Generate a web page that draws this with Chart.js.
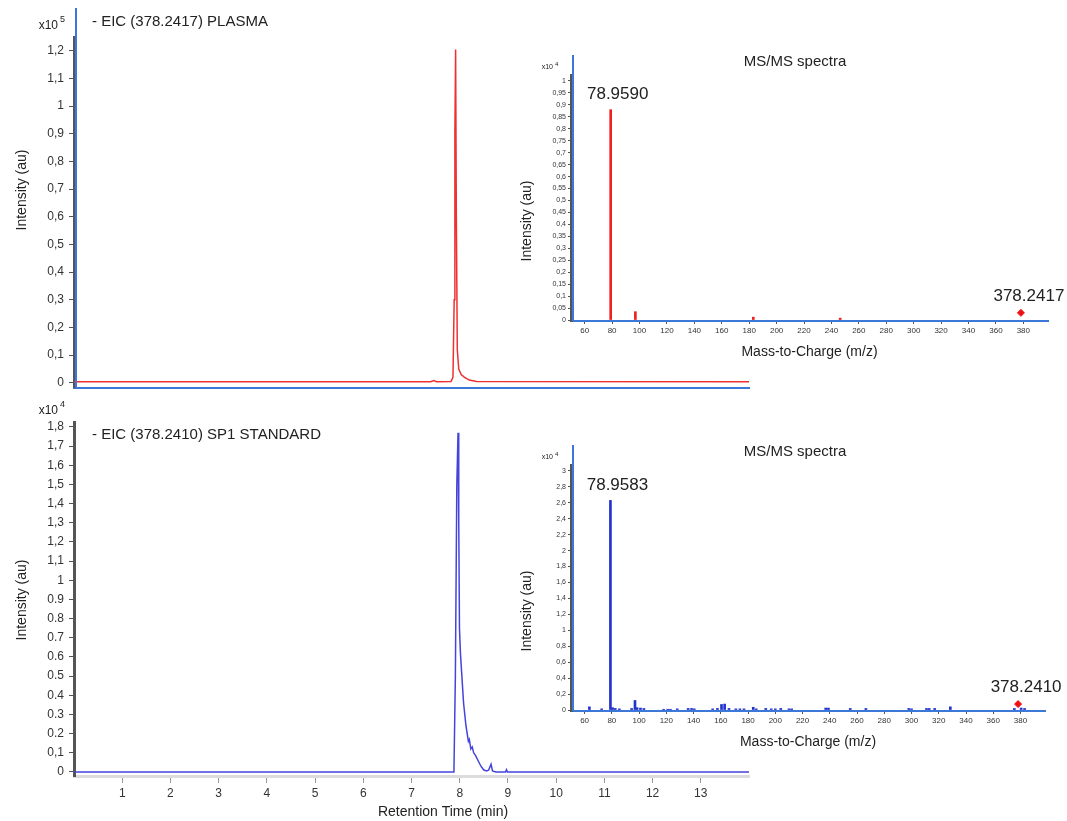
<!DOCTYPE html>
<html>
<head>
<meta charset="utf-8">
<script src="https://cdn.jsdelivr.net/npm/chart.js@4.4.0/dist/chart.umd.min.js"></script>
<style>
  body { margin: 0; background: #fff; width: 1067px; height: 821px; position: relative; overflow: hidden; }
  canvas { position: absolute; }
</style>
</head>
<body>
<canvas id="eicPlasma" width="760" height="400" style="left:0;top:0"></canvas>
<canvas id="eicStd" width="760" height="421" style="left:0;top:400px"></canvas>
<canvas id="msPlasma" width="567" height="330" style="left:500px;top:40px"></canvas>
<canvas id="msStd" width="567" height="330" style="left:500px;top:430px"></canvas>
<script>
// ---- chromatograms (x10^5 / x10^4 au vs min) ----
const plasmaTime = [0, 7.4, 7.46, 7.52, 7.82, 7.86, 7.885, 7.9, 7.915, 7.93, 7.95, 7.98, 8.03, 8.1, 8.2, 8.35, 14];
const plasmaInt  = [0.004, 0.004, 0.008, 0.004, 0.005, 0.02, 0.3, 0.9, 1.205, 0.6, 0.12, 0.05, 0.03, 0.02, 0.01, 0.005, 0.004];

const stdTime = [0, 7.88, 7.91, 7.94, 7.965, 7.98, 7.995, 8.015, 8.08, 8.13, 8.18, 8.2, 8.23, 8.26, 8.29, 8.33, 8.38, 8.44, 8.5, 8.56, 8.6, 8.65, 8.68, 8.75, 8.95, 8.97, 8.99, 14];
const stdInt  = [0, 0, 0.5, 1.5, 1.77, 1.3, 0.75, 0.62, 0.36, 0.24, 0.16, 0.17, 0.12, 0.13, 0.1, 0.085, 0.06, 0.03, 0.01, 0.005, 0.01, 0.04, 0.005, 0, 0, 0.012, 0, 0];

const timeTicks = [1, 2, 3, 4, 5, 6, 7, 8, 9, 10, 11, 12, 13];
const plasmaTicks = [0, 0.1, 0.2, 0.3, 0.4, 0.5, 0.6, 0.7, 0.8, 0.9, 1, 1.1, 1.2];
const plasmaTickLabels = ['0', '0,1', '0,2', '0,3', '0,4', '0,5', '0,6', '0,7', '0,8', '0,9', '1', '1,1', '1,2'];
const stdTicks = [0, 0.1, 0.2, 0.3, 0.4, 0.5, 0.6, 0.7, 0.8, 0.9, 1, 1.1, 1.2, 1.3, 1.4, 1.5, 1.6, 1.7, 1.8];
const stdTickLabels = ['0', '0,1', '0.2', '0.3', '0.4', '0.5', '0.6', '0.7', '0.8', '0.9', '1', '1,1', '1,2', '1,3', '1,4', '1,5', '1,6', '1,7', '1,8'];

// ---- MS/MS spectra (x10^4 au vs m/z) ----
const plasmaMz  = [78.959, 96.97, 183.0, 246.4];
const plasmaMzInt = [0.88, 0.035, 0.012, 0.008];
const stdMz = [63.5, 72.5, 78.958, 80.5, 82.5, 85.5, 94.5, 96.97, 98.5, 101, 103.5, 118, 121, 123, 128, 136, 138.5, 140.5, 154, 157.5, 160.5, 162.8, 166, 171, 174, 177, 183.8, 186, 193, 197, 200, 204, 210, 212, 237, 239, 255, 266.5, 298, 300, 311, 313, 317, 328.5, 375.5, 380.5, 383];
const stdMzInt = [0.04, 0.015, 2.63, 0.03, 0.02, 0.015, 0.02, 0.12, 0.03, 0.025, 0.02, 0.01, 0.01, 0.01, 0.015, 0.02, 0.02, 0.015, 0.015, 0.02, 0.07, 0.075, 0.02, 0.015, 0.015, 0.015, 0.035, 0.015, 0.02, 0.015, 0.015, 0.02, 0.015, 0.015, 0.025, 0.025, 0.02, 0.02, 0.02, 0.015, 0.02, 0.02, 0.02, 0.04, 0.02, 0.025, 0.02];
const precursorMz  = [378.2417, 378.2410];
const precursorInt = [0.03, 0.075];
const baseLabels = ['78.9590', '78.9583'];
const precursorLabels = ['378.2417', '378.2410'];

const mzTicks = [60, 80, 100, 120, 140, 160, 180, 200, 220, 240, 260, 280, 300, 320, 340, 360, 380];
const msTopTicks = [0, 0.05, 0.1, 0.15, 0.2, 0.25, 0.3, 0.35, 0.4, 0.45, 0.5, 0.55, 0.6, 0.65, 0.7, 0.75, 0.8, 0.85, 0.9, 0.95, 1];
const msTopTickLabels = ['0', '0,05', '0,1', '0,15', '0,2', '0,25', '0,3', '0,35', '0,4', '0,45', '0,5', '0,55', '0,6', '0,65', '0,7', '0,75', '0,8', '0,85', '0,9', '0,95', '1'];
const msStdTicks = [0, 0.2, 0.4, 0.6, 0.8, 1, 1.2, 1.4, 1.6, 1.8, 2, 2.2, 2.4, 2.6, 2.8, 3];
const msStdTickLabels = ['0', '0,2', '0,4', '0,6', '0,8', '1', '1,2', '1,4', '1,6', '1,8', '2', '2,2', '2,4', '2,6', '2,8', '3'];

const FONT = '"Liberation Sans", Arial, sans-serif';
const BLUE = '#3b78d8';
const AXIS = '#555';
Chart.defaults.font.family = FONT;
Chart.defaults.animation = false;

const pts = (xs, ys) => xs.map((x, i) => ({ x: x, y: ys[i] }));

// texts and the blue frame line
Chart.register({
  id: 'deco',
  afterDraw(chart, args, opts) {
    const ctx = chart.ctx, a = chart.chartArea;
    if (opts.frameTop !== undefined) {
      ctx.save();
      ctx.strokeStyle = BLUE; ctx.lineWidth = 2;
      ctx.beginPath();
      ctx.moveTo(a.left + 2, opts.frameTop);
      ctx.lineTo(a.left + 2, a.bottom);
      ctx.stroke();
      ctx.restore();
    }
    (opts.texts || []).forEach(t => {
      let x = t.x, y = t.y;
      if (t.mz !== undefined) {
        x = chart.scales.x.getPixelForValue(t.mz) + t.dx;
        y = chart.scales.y.getPixelForValue(t.val) + t.dy;
      }
      ctx.save();
      ctx.font = t.font + ' ' + FONT;
      ctx.fillStyle = t.color || '#222';
      ctx.textAlign = t.align || 'left';
      ctx.textBaseline = 'middle';
      ctx.translate(x, y);
      if (t.rot) ctx.rotate(t.rot);
      ctx.fillText(t.text, 0, 0);
      ctx.restore();
    });
  }
});

function yAxis(min, max, ticks, labels, width, fontSize, tickLen, pad) {
  return {
    type: 'linear', min: min, max: max,
    afterFit: s => { s.width = width; },
    afterBuildTicks: s => { s.ticks = ticks.map(v => ({ value: v })); },
    ticks: { autoSkip: false, color: '#333', font: { size: fontSize }, padding: pad,
             callback: (v, i) => labels[i] },
    grid: { drawOnChartArea: false, tickLength: tickLen, color: AXIS },
    border: { color: AXIS, width: 3 }
  };
}

// ---- EIC plasma ----
new Chart(document.getElementById('eicPlasma'), {
  type: 'line',
  data: { datasets: [{ data: pts(plasmaTime, plasmaInt), borderColor: '#ee3030', borderWidth: 1.5, pointRadius: 0, tension: 0 }] },
  options: {
    responsive: false,
    layout: { padding: { left: 0, right: 11, top: 37, bottom: 9 } },
    plugins: {
      legend: { display: false }, tooltip: { enabled: false },
      deco: { frameTop: 8, texts: [
        { text: 'x10', x: 58, y: 26, font: '12px', align: 'right' },
        { text: '5', x: 60, y: 20, font: '9px' },
        { text: '- EIC (378.2417) PLASMA', x: 92, y: 22, font: '15px' },
        { text: 'Intensity (au)', x: 22, y: 190, font: '14px', align: 'center', rot: -Math.PI / 2 }
      ] }
    },
    scales: {
      x: { type: 'linear', min: 0, max: 14,
           afterFit: s => { s.height = 0; },
           ticks: { display: false }, grid: { display: false },
           border: { color: BLUE, width: 2 } },
      y: yAxis(-0.018, 1.25, plasmaTicks, plasmaTickLabels, 74, 12, 5, 5)
    }
  }
});

// ---- EIC standard ----
new Chart(document.getElementById('eicStd'), {
  type: 'line',
  data: { datasets: [{ data: pts(stdTime, stdInt), borderColor: '#4444dd', borderWidth: 1.5, pointRadius: 0, tension: 0 }] },
  options: {
    responsive: false,
    layout: { padding: { left: 0, right: 11, top: 22, bottom: 0 } },
    plugins: {
      legend: { display: false }, tooltip: { enabled: false },
      deco: { texts: [
        { text: 'x10', x: 58, y: 11, font: '12px', align: 'right' },
        { text: '4', x: 60, y: 5, font: '9px' },
        { text: '- EIC (378.2410) SP1 STANDARD', x: 92, y: 35, font: '15px' },
        { text: 'Intensity (au)', x: 22, y: 200, font: '14px', align: 'center', rot: -Math.PI / 2 },
        { text: 'Retention Time (min)', x: 443, y: 412, font: '14px', align: 'center' }
      ] }
    },
    scales: {
      x: { type: 'linear', min: 0, max: 14,
           afterFit: s => { s.height = 45; },
           afterBuildTicks: s => { s.ticks = timeTicks.map(v => ({ value: v })); },
           ticks: { autoSkip: false, maxRotation: 0, color: '#333', font: { size: 12 }, padding: 3 },
           grid: { drawOnChartArea: false, tickLength: 7, color: '#999' },
           border: { color: '#dcdcdc', width: 3 } },
      y: yAxis(-0.021, 1.826, stdTicks, stdTickLabels, 74, 12, 5, 5)
    }
  }
});

// ---- MS/MS insets ----
function msChart(id, mz, ints, k, color, yMin, yMax, ticks, labels, padRight) {
  const top = Math.max(...ints);
  return new Chart(document.getElementById(id), {
    type: 'bar',
    data: { datasets: [
      { data: pts(mz, ints), backgroundColor: color, barThickness: 2, grouped: false },
      { type: 'scatter', data: [{ x: precursorMz[k], y: precursorInt[k] }], pointStyle: 'rectRot',
        pointRadius: 3.5, backgroundColor: '#ee1111', borderColor: '#ee1111' }
    ] },
    options: {
      responsive: false,
      layout: { padding: { left: 0, right: padRight, top: 35, bottom: 0 } },
      plugins: {
        legend: { display: false }, tooltip: { enabled: false },
        deco: { frameTop: 15, texts: [
          { text: 'x10', x: 53, y: 27, font: '7px', align: 'right' },
          { text: '4', x: 55, y: 24, font: '6px' },
          { text: 'MS/MS spectra', x: 295, y: 22, font: '15px', align: 'center' },
          { text: 'Intensity (au)', x: 27, y: 181, font: '14px', align: 'center', rot: -Math.PI / 2 },
          { text: baseLabels[k], mz: mz[ints.indexOf(top)], val: top, dx: 7, dy: -15, font: '17px', align: 'center' },
          { text: precursorLabels[k], mz: precursorMz[k], val: precursorInt[k], dx: 8, dy: -17, font: '17px', align: 'center' }
        ] }
      },
      scales: {
        x: { type: 'linear', min: 50, max: 398, offset: false,
             afterFit: s => { s.height = 49; },
             afterBuildTicks: s => { s.ticks = mzTicks.map(v => ({ value: v })); },
             ticks: { autoSkip: false, maxRotation: 0, color: '#333', font: { size: 8 }, padding: 2 },
             grid: { drawOnChartArea: false, offset: false, tickLength: 3, color: AXIS },
             border: { color: BLUE, width: 2 },
             title: { display: true, text: 'Mass-to-Charge (m/z)', color: '#222', font: { size: 14 }, padding: { top: 0, bottom: 9 } } },
        y: yAxis(yMin, yMax, ticks, labels, 71, 7, 3, 2)
      }
    }
  });
}

msChart('msPlasma', plasmaMz, plasmaMzInt, 0, '#ee2020', -0.004, 1.025, msTopTicks, msTopTickLabels, 19);
msChart('msStd', stdMz, stdMzInt, 1, '#2233cc', -0.012, 3.074, msStdTicks, msStdTickLabels, 22);
</script>
</body>
</html>
